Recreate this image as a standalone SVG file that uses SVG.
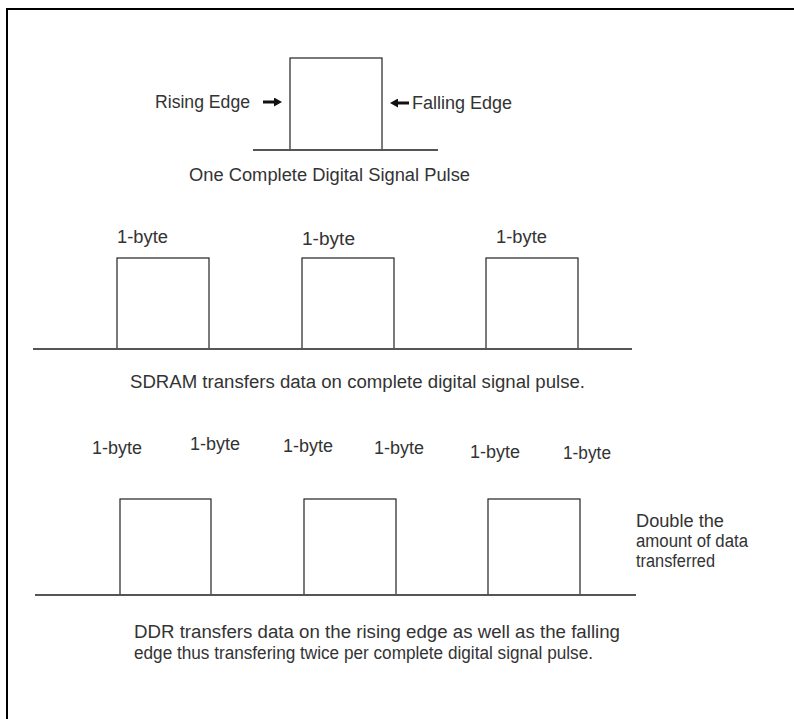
<svg xmlns="http://www.w3.org/2000/svg" width="794" height="719" viewBox="0 0 794 719">
<style>
.t{font-family:"Liberation Sans",Arial,sans-serif;font-size:18px;fill:#333}
.p{fill:none;stroke:#222;stroke-width:1.2}
.b{fill:none;stroke:#555;stroke-width:2}
.a{stroke:#111;stroke-width:3}
</style>
<defs>
<marker id="ah" markerWidth="8" markerHeight="9" refX="1" refY="4.5" orient="auto" markerUnits="userSpaceOnUse" viewBox="0 0 8 9"><path d="M0,0 L8,4.5 L0,9 z" fill="#111"/></marker>
</defs>
<rect width="794" height="719" fill="#fff"/>
<path d="M7,719 V9 H794" fill="none" stroke="#000" stroke-width="2"/>

<g id="pulse-top">
<rect class="p" x="290" y="58" width="92" height="92"/>
<line class="b" x1="253" y1="150" x2="438" y2="150"/>
<text class="t" x="155" y="108" textLength="95" lengthAdjust="spacingAndGlyphs">Rising Edge</text>
<text class="t" x="412" y="109" textLength="100" lengthAdjust="spacingAndGlyphs">Falling Edge</text>
<text class="t" x="189" y="181" textLength="281" lengthAdjust="spacingAndGlyphs">One Complete Digital Signal Pulse</text>
</g>

<g id="sdram">
<rect class="p" x="117" y="258" width="92" height="91"/>
<rect class="p" x="302" y="258" width="92" height="91"/>
<rect class="p" x="486" y="258" width="92" height="91"/>
<line class="b" x1="33" y1="349" x2="632" y2="349"/>
<text class="t" x="117" y="243" textLength="51" lengthAdjust="spacingAndGlyphs">1-byte</text>
<text class="t" x="302" y="245" textLength="53" lengthAdjust="spacingAndGlyphs">1-byte</text>
<text class="t" x="496" y="243" textLength="51" lengthAdjust="spacingAndGlyphs">1-byte</text>
<text class="t" x="130" y="388" textLength="455" lengthAdjust="spacingAndGlyphs">SDRAM transfers data on complete digital signal pulse.</text>
</g>

<g id="ddr">
<rect class="p" x="120" y="499" width="91" height="96"/>
<rect class="p" x="304" y="499" width="92" height="96"/>
<rect class="p" x="488" y="499" width="92" height="96"/>
<line class="b" x1="35" y1="595" x2="636" y2="595"/>
<text class="t" x="92" y="454" textLength="50" lengthAdjust="spacingAndGlyphs">1-byte</text>
<text class="t" x="190" y="450" textLength="50" lengthAdjust="spacingAndGlyphs">1-byte</text>
<text class="t" x="283" y="452" textLength="50" lengthAdjust="spacingAndGlyphs">1-byte</text>
<text class="t" x="374" y="454" textLength="50" lengthAdjust="spacingAndGlyphs">1-byte</text>
<text class="t" x="470" y="458" textLength="50" lengthAdjust="spacingAndGlyphs">1-byte</text>
<text class="t" x="563" y="459" textLength="48" lengthAdjust="spacingAndGlyphs">1-byte</text>
<text class="t" x="636" y="527" textLength="88" lengthAdjust="spacingAndGlyphs">Double the</text>
<text class="t" x="636" y="547" textLength="112" lengthAdjust="spacingAndGlyphs">amount of data</text>
<text class="t" x="636" y="567" textLength="79" lengthAdjust="spacingAndGlyphs">transferred</text>
<text class="t" x="134" y="638" textLength="486" lengthAdjust="spacingAndGlyphs">DDR transfers data on the rising edge as well as the falling</text>
<text class="t" x="134" y="659" textLength="459" lengthAdjust="spacingAndGlyphs">edge thus transfering twice per complete digital signal pulse.</text>
</g>

<g id="connectors">
<line class="a" x1="263" y1="102" x2="275" y2="102" marker-end="url(#ah)"/>
<line class="a" x1="409" y1="103" x2="397" y2="103" marker-end="url(#ah)"/>
</g>
</svg>
